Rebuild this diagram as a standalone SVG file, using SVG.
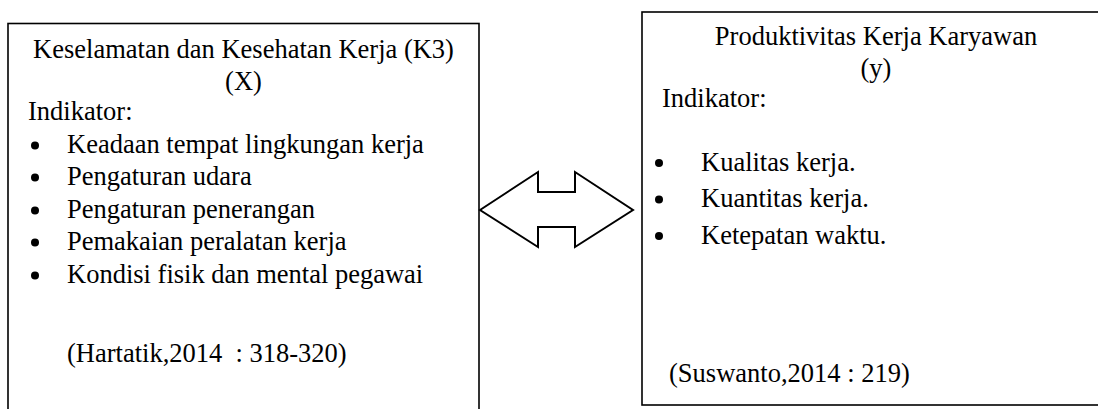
<svg xmlns="http://www.w3.org/2000/svg" width="1098" height="409" viewBox="0 0 1098 409">
<style>
.box{fill:#fff;stroke:#000;stroke-width:1.6}
.t{font-family:"Liberation Serif","Times New Roman",serif;font-size:26.5px;fill:#000}
.c{text-anchor:middle}
.dot{fill:#000}
.arrow{fill:#fff;stroke:#000;stroke-width:2;stroke-linejoin:miter}
</style>
<rect width="1098" height="409" fill="#fff"/>
<g id="node-k3">
<rect class="box" x="8" y="23.5" width="471" height="400"/>
<text class="t c" x="243.5" y="58">Keselamatan dan Kesehatan Kerja (K3)</text>
<text class="t c" x="243.5" y="90">(X)</text>
<text class="t" x="28" y="120">Indikator:</text>
<circle class="dot" cx="35" cy="145.5" r="4"/>
<text class="t" x="67" y="153">Keadaan tempat lingkungan kerja</text>
<circle class="dot" cx="35" cy="177.5" r="4"/>
<text class="t" x="67" y="185">Pengaturan udara</text>
<circle class="dot" cx="35" cy="210.5" r="4"/>
<text class="t" x="67" y="218">Pengaturan penerangan</text>
<circle class="dot" cx="35" cy="242.5" r="4"/>
<text class="t" x="67" y="250">Pemakaian peralatan kerja</text>
<circle class="dot" cx="35" cy="275.5" r="4"/>
<text class="t" x="67" y="283">Kondisi fisik dan mental pegawai</text>
<text class="t" x="67" y="362" xml:space="preserve">(Hartatik,2014  : 318-320)</text>
</g>
<g id="node-produktivitas">
<rect class="box" x="642" y="12" width="500" height="393"/>
<text class="t c" x="876" y="45">Produktivitas Kerja Karyawan</text>
<text class="t c" x="876" y="77">(y)</text>
<text class="t" x="662" y="107">Indikator:</text>
<circle class="dot" cx="659" cy="163" r="4"/>
<text class="t" x="701" y="171">Kualitas kerja.</text>
<circle class="dot" cx="659" cy="199.5" r="4"/>
<text class="t" x="701" y="207">Kuantitas kerja.</text>
<circle class="dot" cx="659" cy="236" r="4"/>
<text class="t" x="701" y="244">Ketepatan waktu.</text>
<text class="t" x="669" y="382">(Suswanto,2014 : 219)</text>
</g>
<g id="connectors">
<polygon class="arrow" points="480,210 538,172 538,192 575,192 575,172 633,210 575,247 575,227 538,227 538,247"/>
</g>
</svg>
